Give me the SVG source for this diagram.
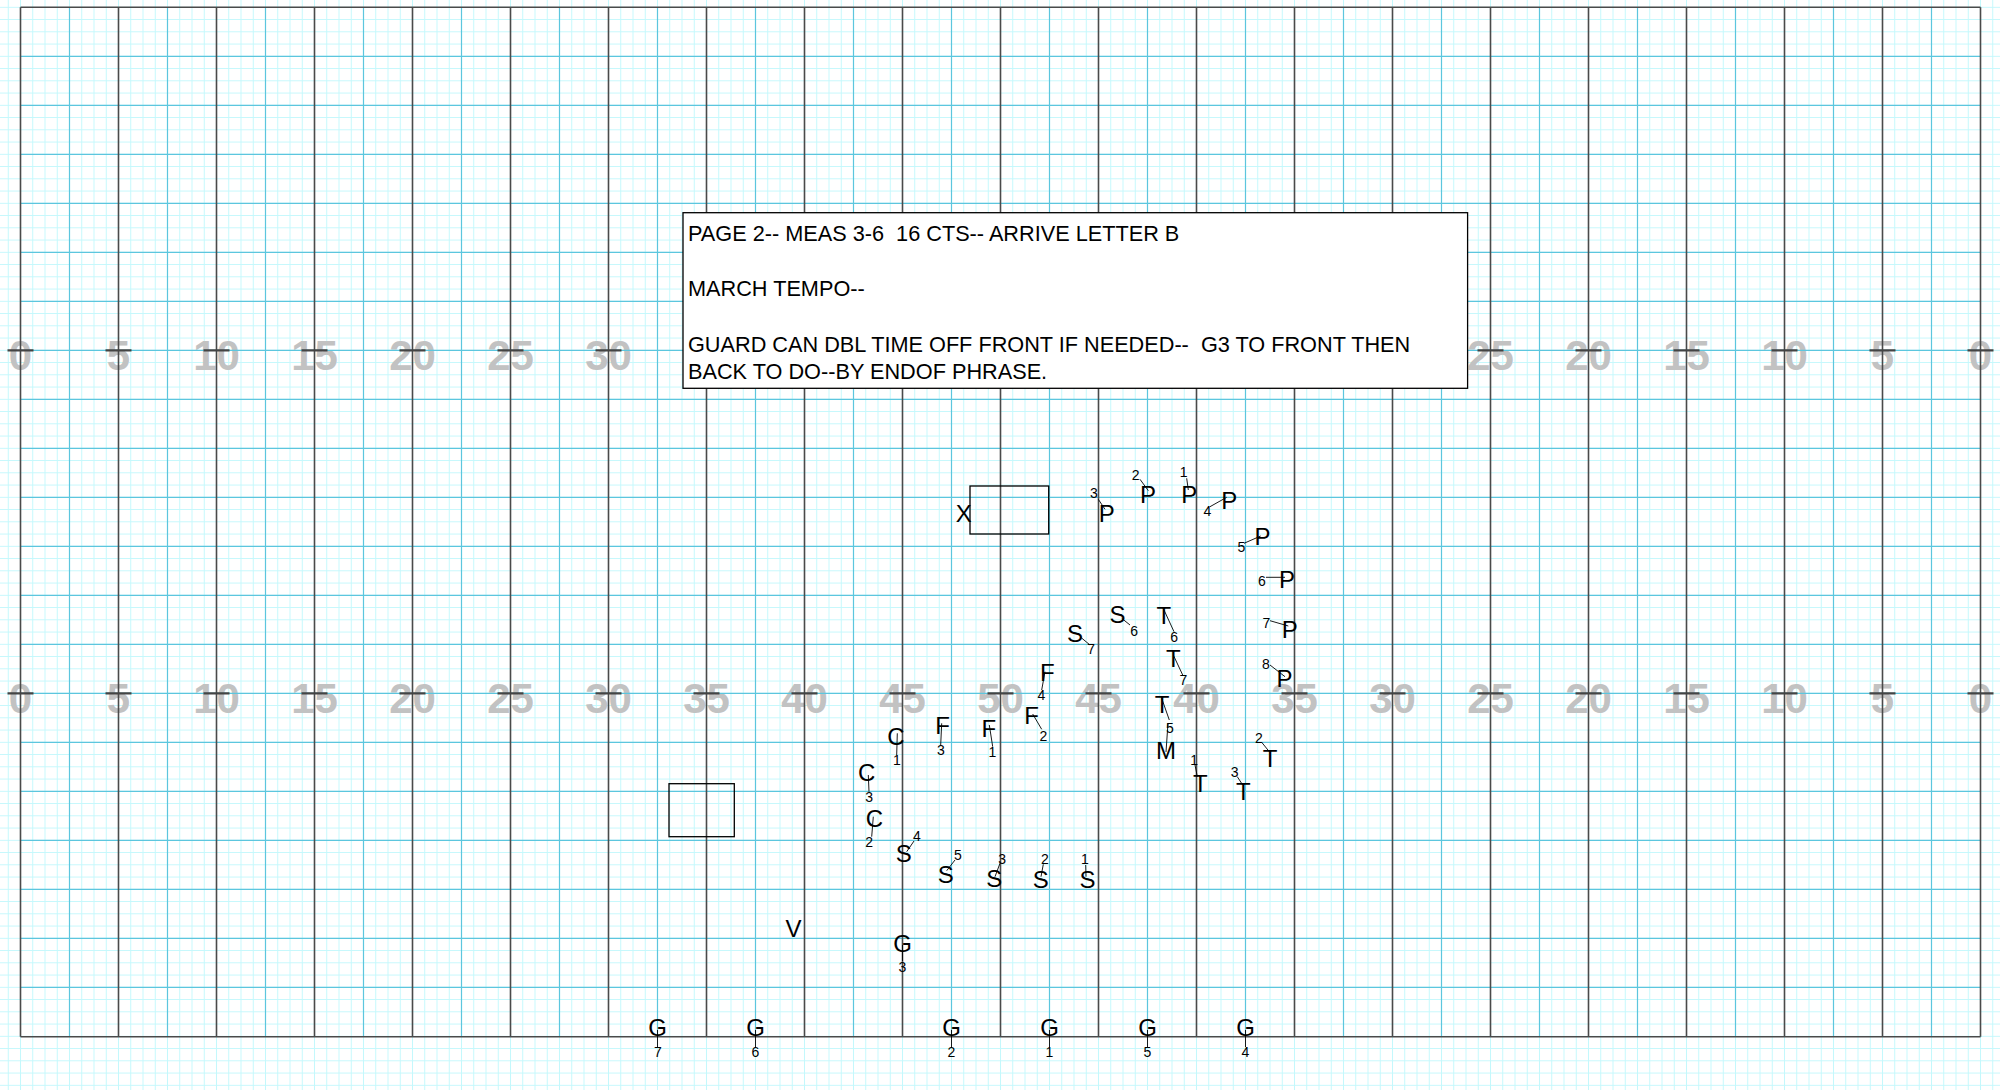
<svg xmlns="http://www.w3.org/2000/svg" width="2000" height="1090" viewBox="0 0 2000 1090">
<style>
.minor{stroke:#c4f8fc;stroke-width:1;fill:none}
.blue{stroke:#5cc6de;stroke-width:1.2;fill:none}
.dark{stroke:#4a4a4a;stroke-width:1.6;fill:none}
.hash{stroke:#444;stroke-width:2.2;fill:none}
.yd{font-family:"Liberation Sans",Arial,sans-serif;font-weight:bold;font-size:42px;fill:#c2c2c2;text-anchor:middle}
.l{font-family:"Liberation Sans",Arial,sans-serif;font-size:24px;fill:#000;text-anchor:middle}
.n{font-family:"Liberation Sans",Arial,sans-serif;font-size:14px;fill:#000;text-anchor:middle}
.ld{stroke:#000;stroke-width:0.9}
.box{fill:none;stroke:#000;stroke-width:1.3}
.note{font-family:"Liberation Sans",Arial,sans-serif;font-size:21.7px;fill:#000;white-space:pre}
</style>
<defs>
<pattern id="mg" patternUnits="userSpaceOnUse" x="14.375" y="1.175" width="12.25" height="12.25">
<path class="minor" d="M6.125 0V12.25M0 6.125H12.25"/>
</pattern>
</defs>
<rect width="2000" height="1090" fill="#fff"/>
<rect width="2000" height="1090" fill="url(#mg)"/>
<g id="yard-numbers">
<text class="yd" x="20.5" y="369.5">0</text><text class="yd" x="118.5" y="369.5">5</text><text class="yd" x="216.5" y="369.5">10</text><text class="yd" x="314.5" y="369.5">15</text><text class="yd" x="412.5" y="369.5">20</text><text class="yd" x="510.5" y="369.5">25</text><text class="yd" x="608.5" y="369.5">30</text>
<text class="yd" x="1490.5" y="369.5">25</text><text class="yd" x="1588.5" y="369.5">20</text><text class="yd" x="1686.5" y="369.5">15</text><text class="yd" x="1784.5" y="369.5">10</text><text class="yd" x="1882.5" y="369.5">5</text><text class="yd" x="1980.5" y="369.5">0</text>
<text class="yd" x="20.5" y="712.5">0</text><text class="yd" x="118.5" y="712.5">5</text><text class="yd" x="216.5" y="712.5">10</text><text class="yd" x="314.5" y="712.5">15</text><text class="yd" x="412.5" y="712.5">20</text><text class="yd" x="510.5" y="712.5">25</text><text class="yd" x="608.5" y="712.5">30</text><text class="yd" x="706.5" y="712.5">35</text><text class="yd" x="804.5" y="712.5">40</text><text class="yd" x="902.5" y="712.5">45</text><text class="yd" x="1000.5" y="712.5">50</text><text class="yd" x="1098.5" y="712.5">45</text><text class="yd" x="1196.5" y="712.5">40</text><text class="yd" x="1294.5" y="712.5">35</text><text class="yd" x="1392.5" y="712.5">30</text><text class="yd" x="1490.5" y="712.5">25</text><text class="yd" x="1588.5" y="712.5">20</text><text class="yd" x="1686.5" y="712.5">15</text><text class="yd" x="1784.5" y="712.5">10</text><text class="yd" x="1882.5" y="712.5">5</text><text class="yd" x="1980.5" y="712.5">0</text>
</g>
<g id="field-grid">
<path class="blue" d="M69.5 7.3V1036.7M167.5 7.3V1036.7M265.5 7.3V1036.7M363.5 7.3V1036.7M461.5 7.3V1036.7M559.5 7.3V1036.7M657.5 7.3V1036.7M755.5 7.3V1036.7M853.5 7.3V1036.7M951.5 7.3V1036.7M1049.5 7.3V1036.7M1147.5 7.3V1036.7M1245.5 7.3V1036.7M1343.5 7.3V1036.7M1441.5 7.3V1036.7M1539.5 7.3V1036.7M1637.5 7.3V1036.7M1735.5 7.3V1036.7M1833.5 7.3V1036.7M1931.5 7.3V1036.7"/>
<path class="blue" d="M20.5 56.3H1981M20.5 105.3H1981M20.5 154.3H1981M20.5 203.3H1981M20.5 252.3H1981M20.5 301.3H1981M20.5 350.3H1981M20.5 399.3H1981M20.5 448.3H1981M20.5 497.3H1981M20.5 546.3H1981M20.5 595.3H1981M20.5 644.3H1981M20.5 693.3H1981M20.5 742.3H1981M20.5 791.3H1981M20.5 840.3H1981M20.5 889.3H1981M20.5 938.3H1981M20.5 987.3H1981"/>
<path class="dark" d="M20.5 7.3V1036.7M118.5 7.3V1036.7M216.5 7.3V1036.7M314.5 7.3V1036.7M412.5 7.3V1036.7M510.5 7.3V1036.7M608.5 7.3V1036.7M706.5 7.3V1036.7M804.5 7.3V1036.7M902.5 7.3V1036.7M1000.5 7.3V1036.7M1098.5 7.3V1036.7M1196.5 7.3V1036.7M1294.5 7.3V1036.7M1392.5 7.3V1036.7M1490.5 7.3V1036.7M1588.5 7.3V1036.7M1686.5 7.3V1036.7M1784.5 7.3V1036.7M1882.5 7.3V1036.7M1980.5 7.3V1036.7M20.5 7.3H1980.5M20.5 1036.7H1980.5"/>
<path class="hash" d="M7.5 350.3h26M105.5 350.3h26M203.5 350.3h26M301.5 350.3h26M399.5 350.3h26M497.5 350.3h26M595.5 350.3h26M1477.5 350.3h26M1575.5 350.3h26M1673.5 350.3h26M1771.5 350.3h26M1869.5 350.3h26M1967.5 350.3h26M7.5 693.3h26M105.5 693.3h26M203.5 693.3h26M301.5 693.3h26M399.5 693.3h26M497.5 693.3h26M595.5 693.3h26M693.5 693.3h26M791.5 693.3h26M889.5 693.3h26M987.5 693.3h26M1085.5 693.3h26M1183.5 693.3h26M1281.5 693.3h26M1379.5 693.3h26M1477.5 693.3h26M1575.5 693.3h26M1673.5 693.3h26M1771.5 693.3h26M1869.5 693.3h26M1967.5 693.3h26"/>
</g>
<g id="note">
<rect x="683" y="212.7" width="784.6" height="175.6" fill="#fff" stroke="#000" stroke-width="1.3"/>
<text class="note" x="688" y="240.7" xml:space="preserve">PAGE 2-- MEAS 3-6  16 CTS-- ARRIVE LETTER B</text>
<text class="note" x="688" y="296">MARCH TEMPO--</text>
<text class="note" x="688" y="351.5" xml:space="preserve">GUARD CAN DBL TIME OFF FRONT IF NEEDED--  G3 TO FRONT THEN</text>
<text class="note" x="688" y="379">BACK TO DO--BY ENDOF PHRASE.</text>
</g>
<g id="connectors"></g>
<g id="X"><rect class="box" x="970" y="486" width="78.7" height="48"/><text class="l" x="963.8" y="521.7">X</text></g>
<g id="box2"><rect class="box" x="669" y="783.7" width="65.3" height="53"/></g>
<g id="P3"><text class="l" x="1106.7" y="521.7">P</text><text class="n" x="1094" y="498.3">3</text><line class="ld" x1="1098.3" y1="499.3" x2="1105" y2="509.3"/></g>
<g id="P2"><text class="l" x="1148" y="503.3">P</text><text class="n" x="1135.7" y="480">2</text><line class="ld" x1="1140" y1="479.3" x2="1148.3" y2="490.7"/></g>
<g id="P1"><text class="l" x="1189.2" y="503.3">P</text><text class="n" x="1183.7" y="477.3">1</text><line class="ld" x1="1186.7" y1="478.3" x2="1188.3" y2="490"/></g>
<g id="P4"><text class="l" x="1229.2" y="509">P</text><text class="n" x="1207.5" y="515.7">4</text><line class="ld" x1="1210" y1="506.7" x2="1226.7" y2="497.3"/></g>
<g id="P5"><text class="l" x="1262.5" y="545">P</text><text class="n" x="1241.3" y="551.7">5</text><line class="ld" x1="1244" y1="543.3" x2="1260.7" y2="536"/></g>
<g id="P6"><text class="l" x="1287" y="588.3">P</text><text class="n" x="1262" y="586">6</text><line class="ld" x1="1266" y1="577.3" x2="1285" y2="577.3"/></g>
<g id="P7"><text class="l" x="1289.7" y="637.7">P</text><text class="n" x="1266.3" y="627.7">7</text><line class="ld" x1="1270" y1="620.7" x2="1288.3" y2="626"/></g>
<g id="P8"><text class="l" x="1284.5" y="687.3">P</text><text class="n" x="1265.8" y="669">8</text><line class="ld" x1="1270" y1="665" x2="1285" y2="676.7"/></g>
<g id="S7"><text class="l" x="1075" y="641.7">S</text><text class="n" x="1091.2" y="654">7</text><line class="ld" x1="1080" y1="636.7" x2="1090" y2="645"/></g>
<g id="S6"><text class="l" x="1117.5" y="623.3">S</text><text class="n" x="1134.2" y="636">6</text><line class="ld" x1="1121.7" y1="618.3" x2="1130" y2="625"/></g>
<g id="T6"><text class="l" x="1163.8" y="624">T</text><text class="n" x="1174.2" y="642.3">6</text><line class="ld" x1="1164" y1="610" x2="1174" y2="631.7"/></g>
<g id="T7"><text class="l" x="1173.3" y="667.3">T</text><text class="n" x="1183.3" y="685">7</text><line class="ld" x1="1173.3" y1="655" x2="1182.7" y2="675"/></g>
<g id="F4"><text class="l" x="1047.3" y="680.7">F</text><text class="n" x="1041.3" y="700">4</text><line class="ld" x1="1045" y1="671.7" x2="1041.7" y2="690"/></g>
<g id="T5"><text class="l" x="1162.2" y="712.7">T</text><text class="n" x="1170" y="732.7">5</text><line class="ld" x1="1161.7" y1="698.3" x2="1169.3" y2="720"/></g>
<g id="M"><text class="l" x="1166" y="759.3">M</text><line class="ld" x1="1168" y1="723" x2="1166" y2="752"/></g>
<g id="T1"><text class="l" x="1200.3" y="791.7">T</text><text class="n" x="1194.2" y="765">1</text><line class="ld" x1="1195" y1="765" x2="1197.3" y2="776.7"/></g>
<g id="T3"><text class="l" x="1243.3" y="800">T</text><text class="n" x="1234.7" y="776.7">3</text><line class="ld" x1="1237.3" y1="776.7" x2="1242.7" y2="785"/></g>
<g id="T2"><text class="l" x="1270" y="767.3">T</text><text class="n" x="1258.8" y="743.3">2</text><line class="ld" x1="1261.7" y1="742.3" x2="1269.3" y2="751.7"/></g>
<g id="F2"><text class="l" x="1031.7" y="724.3">F</text><text class="n" x="1043.3" y="740.7">2</text><line class="ld" x1="1032.7" y1="714" x2="1041.7" y2="729.3"/></g>
<g id="F1"><text class="l" x="988.8" y="736.7">F</text><text class="n" x="992.5" y="756.7">1</text><line class="ld" x1="989.3" y1="725" x2="992.7" y2="746.7"/></g>
<g id="F3"><text class="l" x="942.7" y="734">F</text><text class="n" x="940.8" y="755">3</text><line class="ld" x1="941.7" y1="723.3" x2="940.7" y2="745"/></g>
<g id="C1"><text class="l" x="896" y="744.5">C</text><text class="n" x="896.8" y="765">1</text><line class="ld" x1="897.3" y1="733.3" x2="896.7" y2="755"/></g>
<g id="C3"><text class="l" x="866.7" y="780.5">C</text><text class="n" x="869.2" y="801.7">3</text><line class="ld" x1="868.3" y1="775" x2="869" y2="791.7"/></g>
<g id="C2"><text class="l" x="874.3" y="826.5">C</text><text class="n" x="869.2" y="846.7">2</text><line class="ld" x1="873.3" y1="816.7" x2="871.7" y2="836.7"/></g>
<g id="S4"><text class="l" x="903.8" y="862">S</text><text class="n" x="917" y="840.7">4</text><line class="ld" x1="906.7" y1="851.7" x2="914" y2="841"/></g>
<g id="S5"><text class="l" x="945.8" y="883.3">S</text><text class="n" x="957.8" y="860">5</text><line class="ld" x1="946.7" y1="870.7" x2="955" y2="860"/></g>
<g id="S3"><text class="l" x="994.2" y="887.3">S</text><text class="n" x="1002.2" y="864.3">3</text><line class="ld" x1="995" y1="876.7" x2="1000" y2="863.3"/></g>
<g id="S2"><text class="l" x="1040.8" y="888.3">S</text><text class="n" x="1044.8" y="864.3">2</text><line class="ld" x1="1041" y1="876.7" x2="1043.3" y2="864.3"/></g>
<g id="S1"><text class="l" x="1087.5" y="888.3">S</text><text class="n" x="1084.8" y="864.3">1</text><line class="ld" x1="1086" y1="876.7" x2="1085.7" y2="865"/></g>
<g id="V"><text class="l" x="793.5" y="936.7">V</text></g>
<g id="G3"><text class="l" x="902.5" y="952">G</text><text class="n" x="902.5" y="971.7">3</text><line class="ld" x1="902.5" y1="945" x2="902.5" y2="961"/></g>
<g id="G7"><text class="l" x="657.5" y="1036">G</text><text class="n" x="658" y="1057.3">7</text><line class="ld" x1="657.5" y1="1030" x2="657.5" y2="1047"/></g>
<g id="G6"><text class="l" x="755.5" y="1036">G</text><text class="n" x="755.5" y="1057.3">6</text><line class="ld" x1="755.5" y1="1030" x2="755.5" y2="1047"/></g>
<g id="G2"><text class="l" x="951.5" y="1036">G</text><text class="n" x="951.5" y="1057.3">2</text><line class="ld" x1="951.5" y1="1030" x2="951.5" y2="1047"/></g>
<g id="G1"><text class="l" x="1049.5" y="1036">G</text><text class="n" x="1049.5" y="1057.3">1</text><line class="ld" x1="1049.5" y1="1030" x2="1049.5" y2="1047"/></g>
<g id="G5"><text class="l" x="1147.5" y="1036">G</text><text class="n" x="1147.5" y="1057.3">5</text><line class="ld" x1="1147.5" y1="1030" x2="1147.5" y2="1047"/></g>
<g id="G4"><text class="l" x="1245.5" y="1036">G</text><text class="n" x="1245.5" y="1057.3">4</text><line class="ld" x1="1245.5" y1="1030" x2="1245.5" y2="1047"/></g>
</svg>
